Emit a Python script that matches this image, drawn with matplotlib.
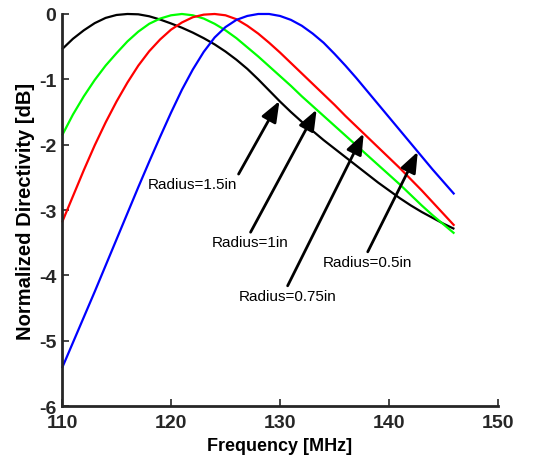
import numpy as np
import matplotlib
matplotlib.use("Agg")
import matplotlib.pyplot as plt

plt.rcParams['font.family'] = ['Liberation Sans', 'DejaVu Sans']

# Frequency grid [MHz]
freq = np.arange(110, 147, 1)

# Normalized directivity [dB] for each loop radius
d_r150 = [-0.54, -0.38, -0.25, -0.14, -0.06, -0.015, 0.00, -0.005, -0.035, -0.085,
          -0.145, -0.21, -0.285, -0.37, -0.465, -0.575, -0.70, -0.84, -1.00, -1.17,
          -1.34, -1.50, -1.65, -1.79, -1.93, -2.06, -2.19, -2.32, -2.45, -2.58,
          -2.70, -2.82, -2.93, -3.03, -3.12, -3.21, -3.29]
d_r100 = [-1.86, -1.54, -1.26, -1.01, -0.79, -0.60, -0.42, -0.27, -0.15, -0.07,
          -0.02, 0.00, -0.02, -0.07, -0.15, -0.25, -0.37, -0.51, -0.65, -0.80,
          -0.95, -1.10, -1.26, -1.41, -1.56, -1.71, -1.86, -2.01, -2.16, -2.31,
          -2.46, -2.61, -2.77, -2.93, -3.08, -3.22, -3.36]
d_r075 = [-3.19, -2.79, -2.39, -2.01, -1.66, -1.34, -1.05, -0.79, -0.57, -0.39,
          -0.24, -0.13, -0.05, -0.01, 0.00, -0.02, -0.08, -0.18, -0.30, -0.44,
          -0.59, -0.75, -0.91, -1.07, -1.23, -1.39, -1.56, -1.72, -1.88, -2.04,
          -2.20, -2.36, -2.53, -2.70, -2.88, -3.06, -3.24]
d_r050 = [-5.42, -5.03, -4.64, -4.25, -3.85, -3.45, -3.05, -2.65, -2.26, -1.88,
          -1.51, -1.16, -0.85, -0.58, -0.36, -0.20, -0.09, -0.03, 0.00, 0.00,
          -0.03, -0.09, -0.18, -0.30, -0.44, -0.61, -0.79, -0.98, -1.18, -1.38,
          -1.58, -1.78, -1.98, -2.18, -2.38, -2.57, -2.76]

series = [d_r150, d_r100, d_r075, d_r050]
colors = ['#000000', '#00ff00', '#ff0000', '#0000ff']

# Annotation labels: text, arrow tip frequency, text position / arrow tail (freq, dB)
labels = ['Radius=1.5in', 'Radius=1in', 'Radius=0.75in', 'Radius=0.5in']
tip_freq = [129.95, 133.36, 137.68, 142.64]
text_pos = [(122.0, -2.60), (127.3, -3.49), (130.7, -4.32), (138.05, -3.80)]
tail_pos = [(126.2, -2.45), (127.3, -3.34), (130.7, -4.16), (138.05, -3.64)]

xticks = [110, 120, 130, 140, 150]
yticks = [-6, -5, -4, -3, -2, -1, 0]

fig = plt.figure(figsize=(5.36, 4.64), dpi=100)
ax = fig.add_axes([0.1157, 0.1228, 0.8134, 0.8449])

for y, c in zip(series, colors):
    ax.plot(freq, y, color=c, lw=1.6, solid_capstyle='butt',
            solid_joinstyle='round', clip_on=False)

for lab, fx, tp, tl, y in zip(labels, tip_freq, text_pos, tail_pos, series):
    fy = np.interp(fx, freq, y)
    ax.annotate('', xy=(fx, fy), xytext=tl,
                arrowprops=dict(arrowstyle='-|>,head_length=0.9,head_width=0.35',
                                color='black', lw=2.0, mutation_scale=14,
                                shrinkA=0, shrinkB=0))
    ax.text(tp[0], tp[1], lab, fontsize=11, ha='center', va='center')

ax.set_xlim(110, 150)
ax.set_ylim(-6, 0)
ax.set_xticks(xticks)
ax.set_yticks(yticks)
ax.set_xticklabels([str(v) for v in xticks], fontsize=14, fontweight='bold')
ax.set_yticklabels([str(v) for v in yticks], fontsize=14, fontweight='bold')
ax.tick_params(direction='in', length=5, width=1.2, colors='#262626')
ax.tick_params(axis='x', pad=6)
ax.tick_params(axis='y', pad=4)

for s in ['top', 'right']:
    ax.spines[s].set_visible(False)
for s in ['left', 'bottom']:
    ax.spines[s].set_linewidth(2.0)
    ax.spines[s].set_color('#262626')

ax.set_xlabel('Frequency [MHz]', fontsize=13, fontweight='bold', labelpad=4)
ax.set_ylabel('Normalized Directivity [dB]', fontsize=14.5, fontweight='bold', labelpad=3)

fig.savefig('out.png', dpi=100)
